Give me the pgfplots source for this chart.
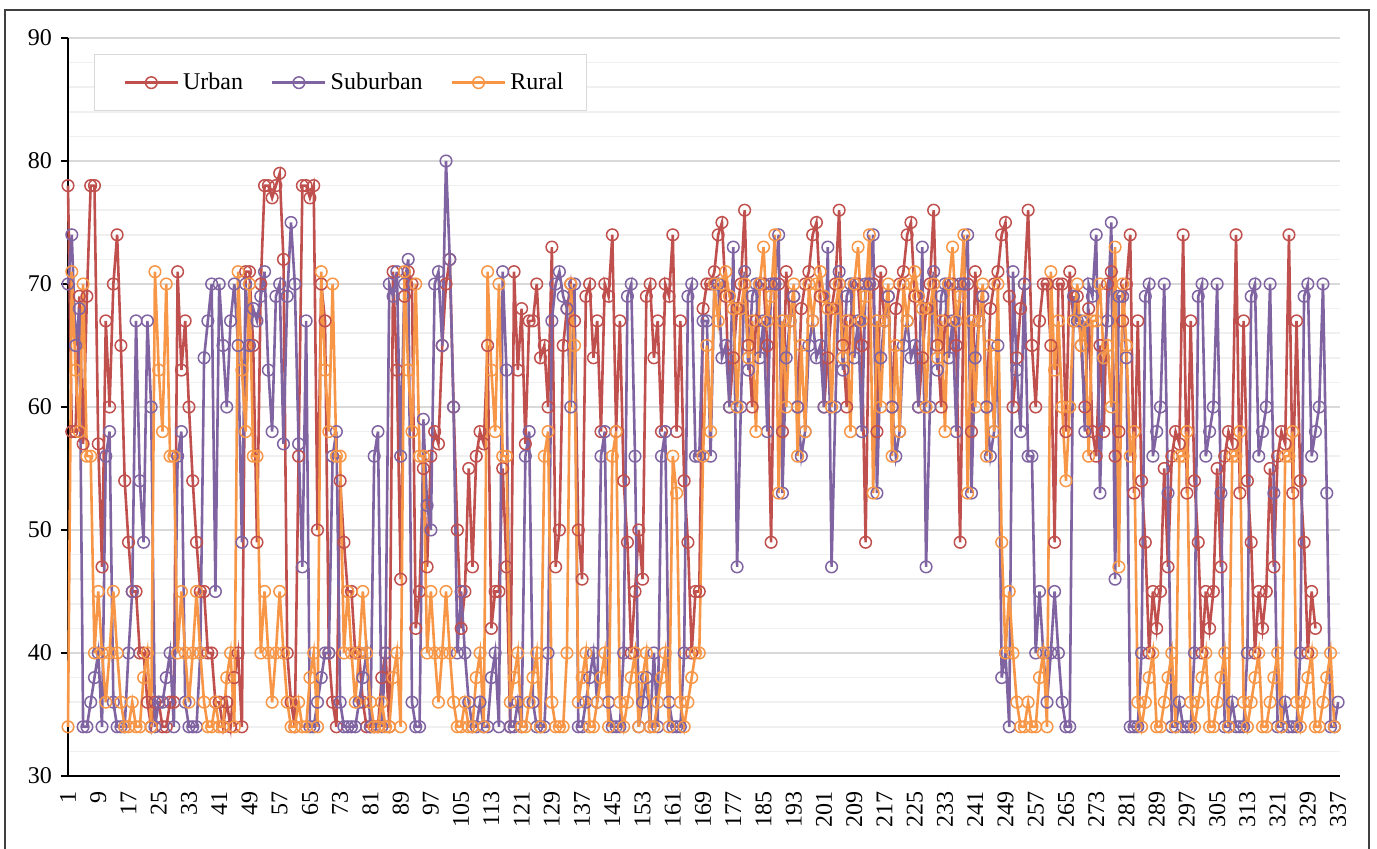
\documentclass[border=0pt]{standalone}
\usepackage{pgfplots}
\pgfplotsset{compat=1.18}
\usepackage{fontspec}
\setmainfont{Liberation Serif}
\definecolor{urb}{HTML}{C0504D}
\definecolor{sub}{HTML}{8064A2}
\definecolor{rur}{HTML}{F79646}
\begin{document}
\begin{tikzpicture}
\useasboundingbox (0pt,0pt) rectangle (688.5pt,424.5pt);
\draw[color=black!75,line width=0.6pt] (2.5pt,-2pt) rectangle (684.5pt,419.5pt);
\begin{axis}[
 at={(34pt,36.5pt)},anchor=south west,
 scale only axis,width=636pt,height=369pt,
 xmin=1,xmax=337.5,ymin=30,ymax=90,
 axis x line=bottom,axis y line=left,
 axis line style={-,black,line width=0.9pt},
 clip=false,
 xtick={1,9,...,337},
 ytick={30,40,...,90},
 minor y tick num=4,
 ymajorgrids,yminorgrids,
 grid style={draw=black!15,line width=0.8pt},
 minor grid style={draw=black!6,line width=0.8pt},
 major grid style={draw=black!15,line width=0.8pt},
 tick align=outside,
 x tick style={draw=none},
 y tick style={black,line width=0.7pt},
 major tick length=3.5pt,minor tick length=0pt,
 xticklabel style={rotate=90,anchor=east,xshift=-0.5pt,yshift=0pt},
 yticklabel style={xshift=-1pt},
 tick label style={font=\fontsize{12}{14}\selectfont},
 /pgf/number format/assume math mode=true,
 /pgf/number format/set thousands separator={},
 every axis plot/.append style={line width=1.3pt,mark=o,mark size=2.9pt,mark options={line width=0.75pt,solid}},
 legend columns=3,
 legend cell align=left,
 legend style={at={(0.0204,0.978)},anchor=north west,draw=black!15,fill=white,line width=0.6pt,
   font=\fontsize{12}{14}\selectfont,inner xsep=9.5pt,inner ysep=7pt,
   /tikz/every even column/.append style={column sep=12pt}},
 legend image code/.code={\draw[#1,mark repeat=2,mark phase=2] plot coordinates {(0pt,0pt)(13.25pt,0pt)(26.5pt,0pt)};},
]
\addplot[color=urb,legend image code/.code={\path (-5pt,0pt);\draw[##1,mark repeat=2,mark phase=2] plot coordinates {(0pt,0pt)(13.25pt,0pt)(26.5pt,0pt)};}] coordinates {(1,78)(2,58)(3,58)(4,69)(5,57)(6,69)(7,78)(8,78)(9,57)(10,47)(11,67)(12,60)(13,70)(14,74)(15,65)(16,54)(17,49)(18,45)(19,45)(20,40)(21,40)(22,36)(23,34)(24,36)(25,36)(26,34)(27,34)(28,36)(29,36)(30,71)(31,63)(32,67)(33,60)(34,54)(35,49)(36,45)(37,45)(38,40)(39,40)(40,36)(41,36)(42,34)(43,36)(44,34)(45,38)(46,40)(47,34)(48,71)(49,71)(50,65)(51,49)(52,70)(53,78)(54,78)(55,77)(56,78)(57,79)(58,72)(59,40)(60,36)(61,34)(62,56)(63,78)(64,78)(65,77)(66,78)(67,50)(68,70)(69,67)(70,40)(71,36)(72,34)(73,54)(74,49)(75,45)(76,45)(77,40)(78,40)(79,36)(80,34)(81,34)(82,34)(83,34)(84,38)(85,40)(86,34)(87,71)(88,63)(89,46)(90,69)(91,71)(92,70)(93,42)(94,45)(95,55)(96,47)(97,56)(98,58)(99,57)(100,65)(101,70)(102,72)(103,60)(104,50)(105,42)(106,45)(107,55)(108,47)(109,56)(110,58)(111,57)(112,65)(113,42)(114,45)(115,45)(116,55)(117,47)(118,34)(119,71)(120,63)(121,68)(122,57)(123,67)(124,67)(125,70)(126,64)(127,65)(128,60)(129,73)(130,47)(131,50)(132,65)(133,68)(134,70)(135,67)(136,50)(137,46)(138,69)(139,70)(140,64)(141,67)(142,58)(143,70)(144,69)(145,74)(146,58)(147,67)(148,54)(149,49)(150,40)(151,45)(152,50)(153,46)(154,69)(155,70)(156,64)(157,67)(158,58)(159,70)(160,69)(161,74)(162,58)(163,67)(164,54)(165,49)(166,40)(167,45)(168,45)(169,68)(170,70)(171,70)(172,71)(173,74)(174,75)(175,69)(176,60)(177,64)(178,68)(179,70)
(180,76)(181,65)(182,60)(183,67)(184,70)(185,70)(186,65)(187,49)(188,70)(189,70)(190,58)(191,71)(192,67)(193,69)(194,60)(195,68)(196,70)(197,71)(198,74)(199,75)(200,69)(201,60)(202,64)(203,68)(204,70)
(205,76)(206,65)(207,60)(208,67)(209,70)(210,70)(211,65)(212,49)(213,70)(214,70)(215,58)(216,71)(217,67)(218,69)(219,60)(220,68)(221,70)(222,71)(223,74)(224,75)(225,69)(226,60)(227,64)(228,68)(229,70)
(230,76)(231,65)(232,60)(233,67)(234,70)(235,70)(236,65)(237,49)(238,70)(239,70)(240,58)(241,71)(242,67)(243,69)(244,60)(245,68)(246,70)(247,71)(248,74)(249,75)(250,69)(251,60)(252,64)(253,68)(254,70)
(255,76)(256,65)(257,60)(258,67)(259,70)(260,70)(261,65)(262,49)(263,70)(264,70)(265,58)(266,71)(267,67)(268,69)(269,65)(270,60)(271,68)(272,58)(273,56)(274,65)(275,58)(276,70)(277,71)(278,56)(279,58)(280,67)(281,70)
(282,74)(283,53)(284,67)(285,54)(286,49)(287,40)(288,45)(289,42)(290,45)(291,55)(292,47)(293,56)(294,58)(295,57)
(296,74)(297,53)(298,67)(299,54)(300,49)(301,40)(302,45)(303,42)(304,45)(305,55)(306,47)(307,56)(308,58)(309,57)
(310,74)(311,53)(312,67)(313,54)(314,49)(315,40)(316,45)(317,42)(318,45)(319,55)(320,47)(321,56)(322,58)(323,57)
(324,74)(325,53)(326,67)(327,54)(328,49)(329,40)(330,45)(331,42)};
\addlegendentry{Urban}
\addplot[color=sub] coordinates {(1,70)(2,74)(3,65)(4,68)(5,34)(6,34)(7,36)(8,38)(9,40)(10,34)(11,56)(12,58)(13,36)(14,34)(15,34)(16,34)(17,40)(18,45)(19,67)(20,54)(21,49)(22,67)(23,60)(24,34)(25,36)(26,36)(27,38)(28,40)(29,34)(30,56)(31,58)(32,36)(33,34)(34,34)(35,34)(36,40)(37,64)(38,67)(39,70)(40,45)(41,70)(42,65)(43,60)(44,67)(45,70)(46,65)(47,49)(48,70)(49,65)(50,68)(51,67)(52,69)(53,71)(54,63)(55,58)(56,69)(57,70)(58,57)(59,69)(60,75)(61,70)(62,57)(63,47)(64,67)(65,34)(66,34)(67,36)(68,38)(69,40)(70,40)(71,56)(72,58)(73,36)(74,34)(75,34)(76,34)(77,34)(78,36)(79,38)(80,40)(81,34)(82,56)(83,58)(84,34)(85,40)(86,70)(87,69)(88,71)(89,56)(90,70)(91,72)(92,36)(93,34)(94,34)(95,59)(96,52)(97,50)(98,70)(99,71)(100,65)(101,80)(102,72)(103,60)(104,40)(105,45)(106,40)(107,36)(108,34)(109,34)(110,36)(111,34)(112,34)(113,38)(114,40)(115,34)(116,71)(117,63)(118,34)(119,34)(120,36)(121,34)(122,56)(123,58)(124,36)(125,34)(126,34)(127,34)(128,40)(129,67)(130,70)(131,71)(132,69)(133,68)(134,60)(135,70)(136,34)(137,34)(138,36)(139,38)(140,40)(141,36)(142,56)(143,58)(144,36)(145,34)(146,34)(147,34)(148,40)(149,69)(150,70)(151,56)(152,34)(153,36)(154,38)(155,34)(156,40)(157,34)(158,56)(159,58)(160,36)(161,34)(162,34)(163,34)(164,40)(165,69)(166,70)(167,56)(168,56)(169,67)(170,67)(171,56)(172,70)(173,70)(174,64)(175,65)(176,60)
(177,73)(178,47)(179,60)(180,71)(181,63)(182,69)(183,70)(184,64)(185,67)(186,58)(187,70)(188,70)(189,74)(190,53)(191,64)(192,67)(193,69)(194,60)(195,56)(196,58)(197,65)(198,67)(199,64)(200,65)(201,60)
(202,73)(203,47)(204,60)(205,71)(206,63)(207,69)(208,70)(209,64)(210,67)(211,58)(212,70)(213,70)(214,74)(215,53)(216,64)(217,67)(218,69)(219,60)(220,56)(221,58)(222,65)(223,67)(224,64)(225,65)(226,60)
(227,73)(228,47)(229,60)(230,71)(231,63)(232,69)(233,70)(234,64)(235,67)(236,58)(237,70)(238,70)(239,74)(240,53)(241,64)(242,67)(243,69)(244,60)(245,56)(246,58)(247,65)
(248,38)(249,40)(250,34)(251,71)(252,63)(253,58)(254,70)(255,56)(256,56)(257,40)(258,45)(259,40)(260,36)(261,40)(262,45)(263,40)(264,36)(265,34)(266,34)(267,69)(268,67)(269,67)(270,58)(271,70)(272,69)(273,74)(274,53)(275,64)(276,67)(277,75)(278,46)(279,69)(280,69)(281,64)(282,34)(283,34)(284,34)
(285,40)(286,69)(287,70)(288,56)(289,58)(290,60)(291,70)(292,53)(293,34)(294,34)(295,36)(296,34)(297,34)(298,34)
(299,40)(300,69)(301,70)(302,56)(303,58)(304,60)(305,70)(306,53)(307,34)(308,34)(309,36)(310,34)(311,34)(312,34)
(313,40)(314,69)(315,70)(316,56)(317,58)(318,60)(319,70)(320,53)(321,34)(322,34)(323,36)(324,34)(325,34)(326,34)
(327,40)(328,69)(329,70)(330,56)(331,58)(332,60)(333,70)(334,53)(335,34)(336,34)(337,36)};
\addlegendentry{Suburban}
\addplot[color=rur] coordinates {(1,34)(2,71)(3,63)(4,58)(5,70)(6,56)(7,56)(8,40)(9,45)(10,40)(11,36)(12,40)(13,45)(14,40)(15,36)(16,34)(17,34)(18,36)(19,34)(20,34)(21,38)(22,40)(23,34)
(24,71)(25,63)(26,58)(27,70)(28,56)(29,56)(30,40)(31,45)(32,40)(33,36)(34,40)(35,45)(36,40)(37,36)(38,34)(39,34)(40,36)(41,34)(42,34)(43,38)(44,40)(45,34)
(46,71)(47,63)(48,58)(49,70)(50,56)(51,56)(52,40)(53,45)(54,40)(55,36)(56,40)(57,45)(58,40)(59,36)(60,34)(61,34)(62,36)(63,34)(64,34)(65,38)(66,40)(67,34)
(68,71)(69,63)(70,58)(71,70)(72,56)(73,56)(74,40)(75,45)(76,40)(77,36)(78,40)(79,45)(80,40)(81,36)(82,34)(83,34)(84,36)(85,34)(86,34)(87,38)(88,40)(89,34)
(90,71)(91,63)(92,58)(93,70)(94,56)(95,56)(96,40)(97,45)(98,40)(99,36)(100,40)(101,45)(102,40)(103,36)(104,34)(105,34)(106,36)(107,34)(108,34)(109,38)(110,40)(111,34)
(112,71)(113,63)(114,58)(115,70)(116,56)(117,56)(118,36)(119,38)(120,40)(121,34)(122,34)(123,36)(124,38)(125,40)(126,34)(127,56)(128,58)(129,36)(130,34)(131,34)(132,34)(133,40)(134,70)(135,65)(136,36)(137,38)(138,40)(139,34)(140,34)(141,36)(142,38)(143,40)(144,34)(145,56)(146,58)(147,36)(148,34)(149,36)(150,38)(151,40)(152,34)(153,38)(154,40)(155,34)(156,34)(157,36)(158,38)(159,40)(160,34)(161,56)(162,53)(163,36)(164,34)(165,36)(166,38)(167,40)(168,40)(169,56)(170,65)(171,58)(172,70)(173,67)(174,70)(175,71)(176,69)(177,68)(178,60)(179,68)
(180,70)(181,64)(182,67)(183,58)(184,70)(185,73)(186,67)(187,69)(188,74)(189,53)(190,67)(191,60)(192,67)(193,70)(194,56)(195,65)(196,58)(197,70)(198,67)(199,70)(200,71)(201,69)(202,68)(203,60)(204,68)
(205,70)(206,64)(207,67)(208,58)(209,70)(210,73)(211,67)(212,69)(213,74)(214,53)(215,67)(216,60)(217,67)(218,70)(219,56)(220,65)(221,58)(222,70)(223,67)(224,70)(225,71)(226,69)(227,68)(228,60)(229,68)
(230,70)(231,64)(232,67)(233,58)(234,70)(235,73)(236,67)(237,69)(238,74)(239,53)(240,67)(241,60)(242,67)(243,70)(244,56)(245,65)(246,58)(247,70)
(248,49)(249,40)(250,45)(251,40)(252,36)(253,34)(254,34)(255,36)(256,34)(257,34)(258,38)(259,40)(260,34)(261,71)(262,63)(263,67)(264,60)(265,54)(266,60)(267,67)(268,70)(269,65)(270,67)(271,56)(272,67)(273,67)(274,70)(275,64)(276,65)(277,60)(278,73)(279,47)(280,70)(281,65)(282,56)(283,58)(284,36)(285,34)(286,36)(287,38)(288,40)(289,34)(290,34)(291,36)(292,38)(293,40)
(294,34)(295,56)(296,56)(297,58)(298,36)(299,34)(300,36)(301,38)(302,40)(303,34)(304,34)(305,36)(306,38)(307,40)
(308,34)(309,56)(310,56)(311,58)(312,36)(313,34)(314,36)(315,38)(316,40)(317,34)(318,34)(319,36)(320,38)(321,40)
(322,34)(323,56)(324,56)(325,58)(326,36)(327,34)(328,36)(329,38)(330,40)(331,34)(332,34)(333,36)(334,38)(335,40)(336,34)};
\addlegendentry{Rural}
\end{axis}
\end{tikzpicture}
\end{document}
